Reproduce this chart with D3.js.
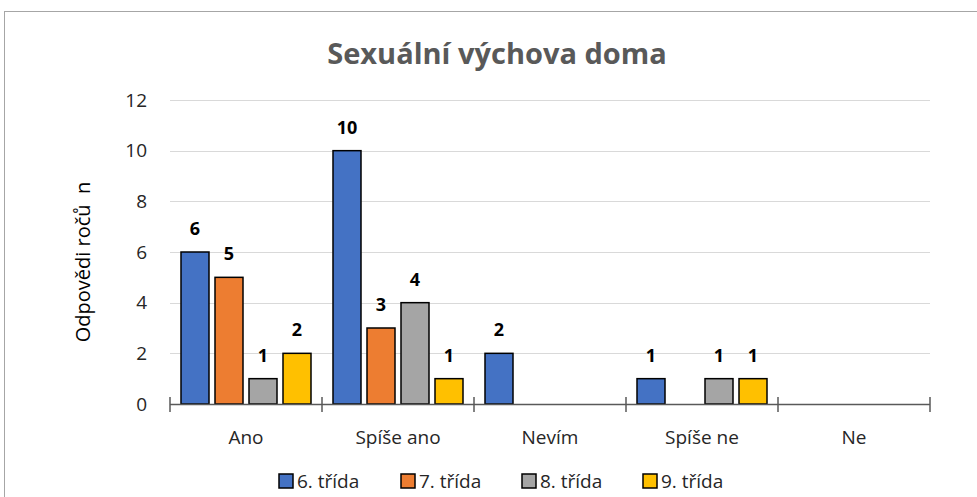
<!DOCTYPE html>
<html>
<head>
<meta charset="utf-8">
<script src="https://cdn.jsdelivr.net/npm/d3@7"></script>
<style>
  body { margin: 0; background: #fff; }
  svg { font-family: "Open Sans", sans-serif; }
</style>
</head>
<body>
<div id="chart"></div>
<script>
// data
var categories = ["Ano", "Spíše ano", "Nevím", "Spíše ne", "Ne"];
var seriesNames = ["6. třída", "7. třída", "8. třída", "9. třída"];
var trida6 = [6, 10, 2, 1, 0];
var trida7 = [5, 3, 0, 0, 0];
var trida8 = [1, 4, 0, 1, 0];
var trida9 = [2, 1, 0, 1, 0];
var yTicks = [0, 2, 4, 6, 8, 10, 12];

var colors = ["#4472C4", "#ED7D31", "#A5A5A5", "#FFC000"];
var allSeries = [trida6, trida7, trida8, trida9];

var svgWidth = 977, svgHeight = 497;
var margin = { top: 100, right: 47, bottom: 93, left: 170 };
var chartWidth = svgWidth - margin.left - margin.right;
var chartHeight = svgHeight - margin.top - margin.bottom;

var svg = d3.select("#chart").append("svg")
  .attr("width", svgWidth)
  .attr("height", svgHeight);

// outer border
svg.append("rect")
  .attr("x", 4.5).attr("y", 11.5)
  .attr("width", 980).attr("height", 500)
  .attr("fill", "none")
  .attr("stroke", "#a6a6a6");

var chartGroup = svg.append("g")
  .attr("transform", `translate(${margin.left}, ${margin.top})`);

var x0 = d3.scaleBand()
  .domain(categories)
  .range([0, chartWidth]);

var x1 = d3.scaleBand()
  .domain(d3.range(seriesNames.length))
  .range([11, x0.bandwidth() - 11 + 6])
  .paddingInner(0);

var y = d3.scaleLinear()
  .domain([0, 12])
  .range([chartHeight, 0]);

// gridlines
chartGroup.selectAll(".grid")
  .data(yTicks.slice(1))
  .enter()
  .append("line")
  .attr("x1", 0).attr("x2", chartWidth)
  .attr("y1", d => Math.round(y(d)) + 0.5)
  .attr("y2", d => Math.round(y(d)) + 0.5)
  .attr("stroke", "#d9d9d9")
  .attr("stroke-width", 1);

// y axis labels
var yAxis = d3.axisLeft(y).tickValues(yTicks).tickSize(0).tickPadding(23);
var yg = chartGroup.append("g").call(yAxis);
yg.select(".domain").remove();
yg.selectAll("text")
  .attr("font-size", "19px")
  .attr("fill", "#262626")
  .attr("font-family", "'Open Sans', sans-serif");

// bars
var groups = chartGroup.selectAll(".cat")
  .data(categories)
  .enter()
  .append("g")
  .attr("transform", d => `translate(${x0(d)},0)`);

groups.each(function(cat, ci) {
  var g = d3.select(this);
  allSeries.forEach(function(vals, si) {
    var v = vals[ci];
    if (v <= 0) return;
    g.append("rect")
      .attr("x", x1(si))
      .attr("y", y(v))
      .attr("width", x1.bandwidth() - 6)
      .attr("height", chartHeight - y(v))
      .attr("fill", colors[si])
      .attr("stroke", "#000")
      .attr("stroke-width", 1.5);
    g.append("text")
      .attr("x", x1(si) + (x1.bandwidth() - 6) / 2)
      .attr("y", y(v) - 17)
      .attr("text-anchor", "middle")
      .attr("font-size", "18px")
      .attr("font-weight", "bold")
      .attr("fill", "#000")
      .text(v);
  });
});

// x axis
var xAxisLine = chartGroup.append("g")
  .attr("transform", `translate(0, ${chartHeight})`);
xAxisLine.append("line")
  .attr("x1", 0).attr("x2", chartWidth)
  .attr("y1", 0.5).attr("y2", 0.5)
  .attr("stroke", "#595959")
  .attr("stroke-width", 1.5);
var tickPos = categories.map(c => x0(c)).concat([chartWidth]);
xAxisLine.selectAll(".xt")
  .data(tickPos)
  .enter()
  .append("line")
  .attr("x1", d => d).attr("x2", d => d)
  .attr("y1", -7).attr("y2", 8)
  .attr("stroke", "#595959")
  .attr("stroke-width", 1.5);
xAxisLine.selectAll(".xl")
  .data(categories)
  .enter()
  .append("text")
  .attr("x", d => x0(d) + x0.bandwidth() / 2)
  .attr("y", 40)
  .attr("text-anchor", "middle")
  .attr("font-size", "19px")
  .attr("fill", "#262626")
  .text(d => d);

// title
svg.append("text")
  .attr("x", 497)
  .attr("y", 64)
  .attr("text-anchor", "middle")
  .attr("font-size", "29px")
  .attr("font-weight", "bold")
  .attr("fill", "#595959")
  .text("Sexuální výchova doma");

// y label
svg.append("text")
  .attr("transform", "rotate(-90)")
  .attr("x", -262)
  .attr("y", 90)
  .attr("text-anchor", "middle")
  .attr("font-size", "20px")
  .attr("fill", "#000")
  .attr("xml:space", "preserve")
  .text("Odpovědi ročů  n");

// legend
var legendX = [279, 401, 522, 643];
var legend = svg.selectAll(".leg")
  .data(seriesNames)
  .enter()
  .append("g")
  .attr("transform", (d, i) => `translate(${legendX[i]}, 474)`);
legend.append("rect")
  .attr("width", 14).attr("height", 14)
  .attr("fill", (d, i) => colors[i])
  .attr("stroke", "#000")
  .attr("stroke-width", 1.5);
legend.append("text")
  .attr("x", 18)
  .attr("y", 14)
  .attr("font-size", "19px")
  .attr("fill", "#262626")
  .text(d => d);
</script>
</body>
</html>
